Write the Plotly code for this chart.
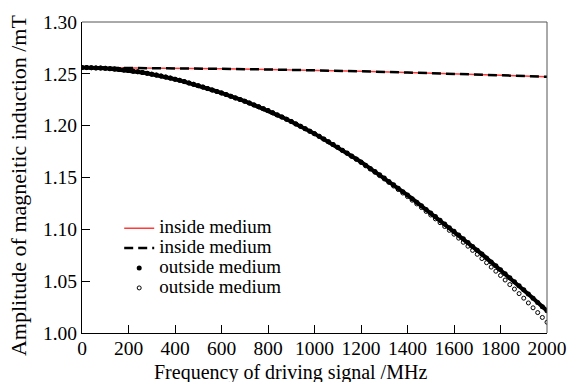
import plotly.graph_objects as go

# ---- data ----
freq = list(range(0, 2001, 20))  # MHz sampling grid

inside_freq = [0, 200, 400, 600, 800, 1000, 1200, 1400, 1600, 1800, 2000]
inside_red = [1.2560, 1.2558, 1.2553, 1.2548, 1.2542, 1.2535, 1.2525, 1.2513, 1.2500, 1.2487, 1.2472]
inside_dash = [1.2560, 1.2558, 1.2553, 1.2548, 1.2542, 1.2535, 1.2525, 1.2513, 1.2500, 1.2487, 1.2472]

outside_dot = [
    1.2560, 1.2560, 1.2559, 1.2557, 1.2556, 1.2553, 1.2550, 1.2546, 1.2542, 1.2537,
    1.2532, 1.2526, 1.2520, 1.2513, 1.2505, 1.2497, 1.2488, 1.2479, 1.2469, 1.2459,
    1.2448, 1.2437, 1.2425, 1.2412, 1.2399, 1.2386, 1.2372, 1.2358, 1.2344, 1.2330,
    1.2316, 1.2300, 1.2284, 1.2268, 1.2252, 1.2236, 1.2218, 1.2200, 1.2182, 1.2164,
    1.2146, 1.2125, 1.2104, 1.2083, 1.2062, 1.2041, 1.2017, 1.1994, 1.1970, 1.1947,
    1.1923, 1.1897, 1.1871, 1.1845, 1.1819, 1.1793, 1.1764, 1.1736, 1.1707, 1.1679,
    1.1650, 1.1619, 1.1588, 1.1557, 1.1526, 1.1495, 1.1462, 1.1429, 1.1396, 1.1363,
    1.1330, 1.1296, 1.1261, 1.1227, 1.1192, 1.1158, 1.1123, 1.1087, 1.1052, 1.1016,
    1.0981, 1.0945, 1.0908, 1.0872, 1.0835, 1.0799, 1.0761, 1.0724, 1.0686, 1.0649,
    1.0611, 1.0572, 1.0533, 1.0494, 1.0455, 1.0416, 1.0376, 1.0335, 1.0295, 1.0254,
    1.0214,
]

outside_circle = [
    1.2560, 1.2560, 1.2559, 1.2557, 1.2556, 1.2553, 1.2550, 1.2546, 1.2542, 1.2537,
    1.2532, 1.2526, 1.2520, 1.2513, 1.2505, 1.2497, 1.2488, 1.2479, 1.2469, 1.2459,
    1.2448, 1.2437, 1.2425, 1.2412, 1.2399, 1.2386, 1.2372, 1.2358, 1.2344, 1.2330,
    1.2316, 1.2300, 1.2284, 1.2268, 1.2252, 1.2236, 1.2218, 1.2200, 1.2182, 1.2164,
    1.2146, 1.2125, 1.2104, 1.2083, 1.2062, 1.2041, 1.2017, 1.1994, 1.1970, 1.1947,
    1.1923, 1.1897, 1.1870, 1.1844, 1.1817, 1.1791, 1.1761, 1.1733, 1.1703, 1.1675,
    1.1645, 1.1613, 1.1581, 1.1550, 1.1518, 1.1486, 1.1452, 1.1418, 1.1384, 1.1350,
    1.1316, 1.1281, 1.1245, 1.1210, 1.1173, 1.1138, 1.1101, 1.1064, 1.1027, 1.0990,
    1.0953, 1.0915, 1.0875, 1.0837, 1.0797, 1.0759, 1.0718, 1.0678, 1.0636, 1.0596,
    1.0555, 1.0511, 1.0467, 1.0424, 1.0380, 1.0336, 1.0290, 1.0243, 1.0197, 1.0150,
    1.0104,
]

labels = ["inside medium", "inside medium", "outside medium", "outside medium"]
x_ticks = [0, 200, 400, 600, 800, 1000, 1200, 1400, 1600, 1800, 2000]
y_ticks = [1.00, 1.05, 1.10, 1.15, 1.20, 1.25, 1.30]

FONT = "Liberation Serif"

def lbl(t):
    return '<span style="font-size:19px">' + t + '</span>'

fig = go.Figure()
fig.add_trace(go.Scatter(x=inside_freq, y=inside_red, mode="lines", name=lbl(labels[0]),
                         line=dict(color="#ff3b3b", width=1.5)))
fig.add_trace(go.Scatter(x=inside_freq, y=inside_dash, mode="lines", name=lbl(labels[1]),
                         line=dict(color="black", width=2.5, dash="9px,5px")))
fig.add_trace(go.Scatter(x=freq, y=outside_circle, mode="markers", name=lbl(labels[3]),
                         marker=dict(symbol="circle-open", size=4, color="black",
                                     line=dict(width=1, color="black")), showlegend=False))
fig.add_trace(go.Scatter(x=freq, y=outside_dot, mode="lines+markers", name=lbl(labels[2]),
                         line=dict(color="black", width=4),
                         marker=dict(symbol="circle", size=5, color="black"),
                         showlegend=False))
# legend entries for the dotted series
fig.add_trace(go.Scatter(x=[None], y=[None], mode="markers", name=lbl(labels[2]),
                         marker=dict(symbol="circle", size=5, color="black")))
fig.add_trace(go.Scatter(x=[None], y=[None], mode="markers", name=lbl(labels[3]),
                         marker=dict(symbol="circle-open", size=4, color="black",
                                     line=dict(width=1, color="black"))))

axis_common = dict(showgrid=False, zeroline=False, showline=True, linecolor="black",
                   linewidth=1, ticks="inside", ticklen=8, tickwidth=1, tickcolor="black",
                   mirror=False, tickfont=dict(family=FONT, size=19.5, color="black"))

fig.update_layout(
    width=579, height=382,
    margin=dict(l=82, r=24, t=20, b=49, pad=0),
    paper_bgcolor="white", plot_bgcolor="white",
    font=dict(family=FONT, color="black"),
    xaxis=dict(range=[0, 2000], tickvals=x_ticks, ticklabelstandoff=-2, **axis_common),
    yaxis=dict(range=[1.0, 1.3], tickvals=y_ticks, tickformat=".2f", **axis_common),
    showlegend=True,
    legend=dict(x=0.08, y=0.385, xanchor="left", yanchor="top",
                font=dict(family=FONT, size=13, color="black"),
                bgcolor="rgba(0,0,0,0)", borderwidth=0, tracegroupgap=0,
                itemsizing="trace"),
    shapes=[
        dict(type="line", xref="paper", yref="paper", x0=0, x1=1, y0=1, y1=1,
             line=dict(color="#555555", width=1)),
        dict(type="line", xref="paper", yref="paper", x0=1, x1=1, y0=0, y1=1,
             line=dict(color="#555555", width=1)),
    ],
    annotations=[
        dict(text="Frequency of driving signal /MHz", xref="paper", yref="paper",
             x=(294 - 82) / 473, y=(333 - 373) / 313, xanchor="center", yanchor="middle",
             showarrow=False, font=dict(family=FONT, size=20, color="black")),
        dict(text="Amplitude of magneitic induction /mT", xref="paper", yref="paper",
             x=(18 - 82) / 473, y=(333 - 185) / 313, xanchor="center", yanchor="middle",
             textangle=-90, showarrow=False, font=dict(family=FONT, size=22, color="black")),
    ],
)

fig.write_html("out.html")
